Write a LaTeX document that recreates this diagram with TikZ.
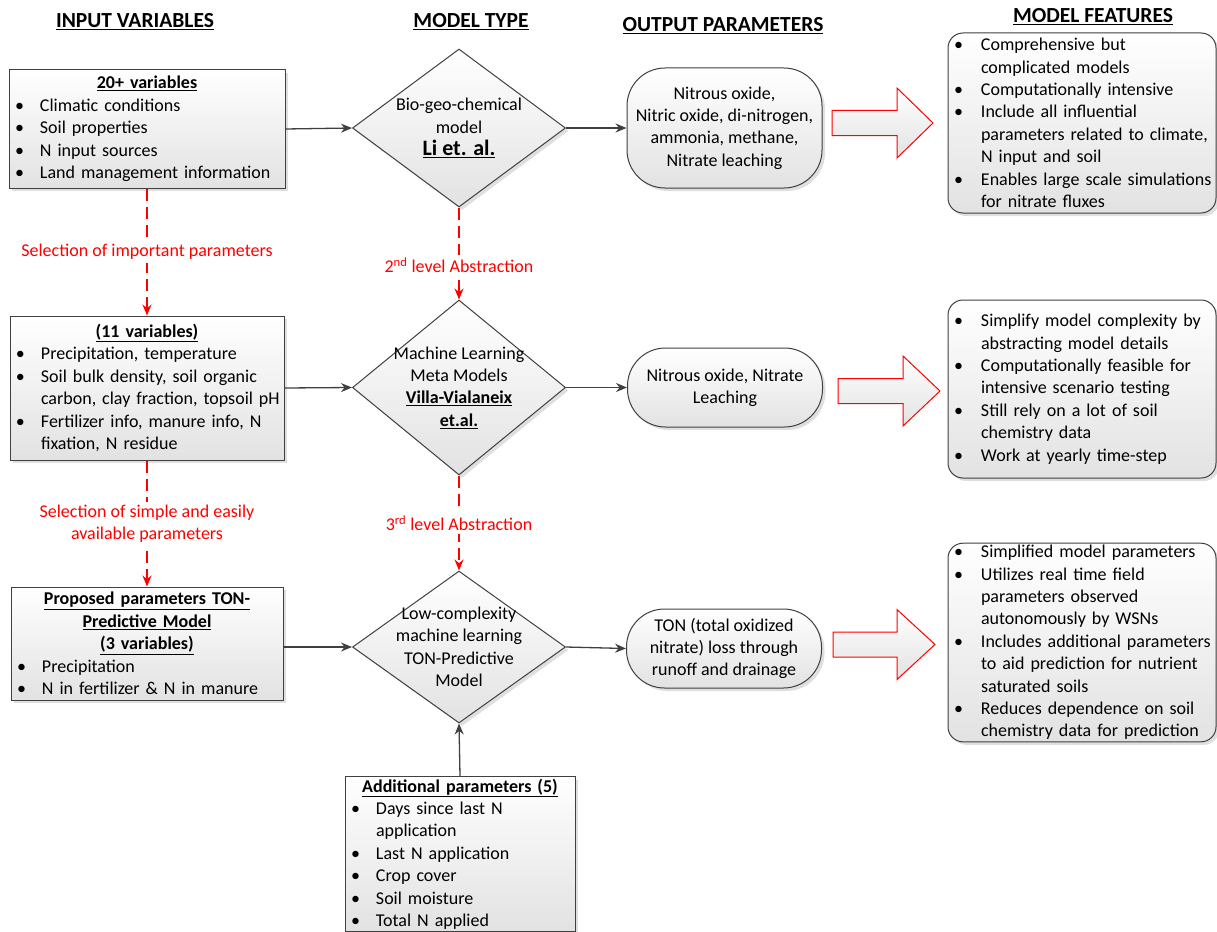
\documentclass[tikz,border=0pt]{standalone}
\usepackage{fontspec}
\setmainfont{Carlito}
\usepackage{xcolor}
\usepackage{tikz}
\usetikzlibrary{shapes,arrows,arrows.meta,positioning,shadows,calc}
\definecolor{linegray}{RGB}{64,64,64}
\definecolor{selred}{RGB}{255,0,0}
\definecolor{boxgray}{RGB}{226,226,226}
\newlength{\bulletwd}
\setlength{\bulletwd}{25pt}
\newcommand{\bl}[1]{\mbox{\makebox[\bulletwd][l]{\textbullet}#1}}
\newcommand{\bi}[1]{\mbox{\hspace*{\bulletwd}#1}}

\tikzset{
  heading/.style={font=\fontsize{21.5}{25}\selectfont\bfseries},
  varbox/.style={rectangle, draw=linegray, line width=1pt, top color=white, bottom color=boxgray,
    drop shadow={shadow xshift=3pt, shadow yshift=-3pt, fill=black!25, opacity=0.5},
    align=left, inner xsep=6pt, inner ysep=2pt},
  featbox/.style={varbox, rounded corners=15pt, inner xsep=6pt, execute at begin node={\setlength{\bulletwd}{27pt}}},
  modelbox/.style={diamond, draw=linegray, line width=1pt, top color=white, bottom color=boxgray,
    drop shadow={shadow xshift=3pt, shadow yshift=-3pt, fill=black!25, opacity=0.5},
    inner sep=0pt, minimum width=213pt},
  outbox/.style={rectangle, rounded corners=38pt, draw=linegray, line width=1pt, top color=white, bottom color=boxgray,
    drop shadow={shadow xshift=3pt, shadow yshift=-3pt, fill=black!25, opacity=0.5},
    align=center, minimum width=195pt, inner sep=2pt},
  flow/.style={->, draw=linegray, line width=1.3pt},
  selflow/.style={->, draw=selred, line width=1.5pt, dash pattern=on 12pt off 6pt},
  selnote/.style={fill=white, text=selred, align=center, inner sep=3pt},
  featarrow/.style={draw=selred, line width=1pt, top color=white, bottom color=boxgray}
}

\begin{document}
\begin{tikzpicture}[x=1pt, y=-1pt, font=\fontsize{18}{22.4}\selectfont, >={Stealth[length=11pt,width=9pt]}]
  \useasboundingbox (0,0) rectangle (1217,931);

  % column headings
  \node[heading] (hinput) at (135,22) {\underline{INPUT VARIABLES}};
  \node[heading] (hmodel) at (471,22) {\underline{MODEL TYPE}};
  \node[heading] (houtput) at (723,26) {\underline{OUTPUT PARAMETERS}};
  \node[heading] (hfeat) at (1093,17) {\underline{MODEL FEATURES}};

  % input variables
  \node[varbox, text width=264pt, minimum height=118pt] (vars20) at (147,129)
    {{\centering\bfseries\underline{20+ variables}\par}
     \bl{Climatic conditions}\\ \bl{Soil properties}\\ \bl{N input sources}\\ \bl{Land management information}};
  \node[varbox, text width=262pt, minimum height=144pt] (vars11) at (147,388)
    {{\centering\bfseries\underline{(11 variables)}\par}
     \bl{Precipitation, temperature}\\ \bl{Soil bulk density, soil organic}\\ \bi{carbon, clay fraction, topsoil pH}\\
     \bl{Fertilizer info, manure info, N}\\ \bi{fixation, N residue}};
  \node[varbox, text width=260pt, minimum height=113pt] (vars3) at (147,643.5)
    {{\centering\bfseries\underline{Proposed parameters TON-}\\\underline{Predictive Model}\\\underline{(3 variables)}\par}
     \bl{Precipitation}\\ \bl{N in fertilizer \& N in manure}};
  \node[varbox, text width=218pt, minimum height=152pt] (addpar) at (460,854)
    {{\centering\bfseries\underline{Additional parameters (5)}\par}
     \bl{Days since last N}\\ \bi{application}\\ \bl{Last N application}\\ \bl{Crop cover}\\ \bl{Soil moisture}\\ \bl{Total N applied}};

  % model types
  \node[modelbox, minimum height=158pt] (bgc) at (459,128) {};
  \node[modelbox, minimum height=175pt] (meta) at (459,387.5) {};
  \node[modelbox, minimum height=152pt] (ton) at (459,647) {};
  \node[align=center] (bgctext) at (bgc.center) {Bio-geo-chemical\\model\\{\fontsize{22}{24}\selectfont\bfseries\underline{Li et. al.}}};
  \node[align=center] (metatext) at (meta.center) {Machine Learning\\Meta Models\\\textbf{\underline{Villa-Vialaneix}}\\\textbf{\underline{et.al.}}};
  \node[align=center] (tontext) at (ton.center) {Low-complexity\\machine learning\\TON-Predictive\\Model};

  % output parameters
  \node[outbox, minimum height=120pt] (out1) at (724.5,128) {Nitrous oxide,\\Nitric oxide, di-nitrogen,\\ammonia, methane,\\Nitrate leaching};
  \node[outbox, minimum height=79pt] (out2) at (725,387.5) {Nitrous oxide, Nitrate\\Leaching};
  \node[outbox, minimum height=79pt] (out3) at (724,648.5) {TON (total oxidized\\nitrate) loss through\\runoff and drainage};

  % model features
  \node[featbox, text width=256pt, minimum height=180pt] (feat1) at (1082,123)
    {\bl{Comprehensive but}\\ \bi{complicated models}\\ \bl{Computationally intensive}\\ \bl{Include all influential}\\
     \bi{parameters related to climate,}\\ \bi{N input and soil}\\ \bl{Enables large scale simulations}\\ \bi{for nitrate fluxes}};
  \node[featbox, text width=256pt, minimum height=178pt] (feat2) at (1082,389)
    {\bl{Simplify model complexity by}\\ \bi{abstracting model details}\\ \bl{Computationally feasible for}\\ \bi{intensive scenario testing}\\
     \bl{Still rely on a lot of soil}\\ \bi{chemistry data}\\ \bl{Work at yearly time-step}};
  \node[featbox, text width=256pt, minimum height=195pt] (feat3) at (1082,642.5)
    {\bl{Simplified model parameters}\\ \bl{Utilizes real time field}\\ \bi{parameters observed}\\ \bi{autonomously by WSNs}\\
     \bl{Includes additional parameters}\\ \bi{to aid prediction for nutrient}\\ \bi{saturated soils}\\
     \bl{Reduces dependence on soil}\\ \bi{chemistry data for prediction}};

  % block arrows
  \foreach \xl/\xn/\xt/\yc in {832/897/933/123, 838/903/940/391, 833/897/935/644.5}
    \draw[featarrow] (\xl,\yc-12.5) -- (\xn,\yc-12.5) -- (\xn,\yc-35) -- (\xt,\yc)
      -- (\xn,\yc+35) -- (\xn,\yc+12.5) -- (\xl,\yc+12.5) -- cycle;

  % flows
  \draw[flow] (vars20.east) -- (bgc.west);
  \draw[flow] (vars11.east) -- (meta.west);
  \draw[flow] (ton.west -| vars3.east) -- (ton.west);
  \draw[flow] (bgc.east) -- (out1.west);
  \draw[flow] (meta.east) -- (out2.west);
  \draw[flow] (ton.east) -- (out3.west);
  \draw[flow] (addpar.north) -- (ton.south);

  % abstraction steps
  \draw[selflow] (vars20.south) -- node[selnote] {Selection of important parameters} (vars11.north);
  \draw[selflow] (vars11.south) -- node[selnote] {Selection of simple and easily\\available parameters} (vars3.north);
  \draw[selflow] (bgc.south) -- node[selnote, pos=0.63] {2\textsuperscript{nd} level Abstraction} (meta.north);
  \draw[selflow] (meta.south) -- node[selnote] {3\textsuperscript{rd} level Abstraction} (ton.north);
\end{tikzpicture}
\end{document}
